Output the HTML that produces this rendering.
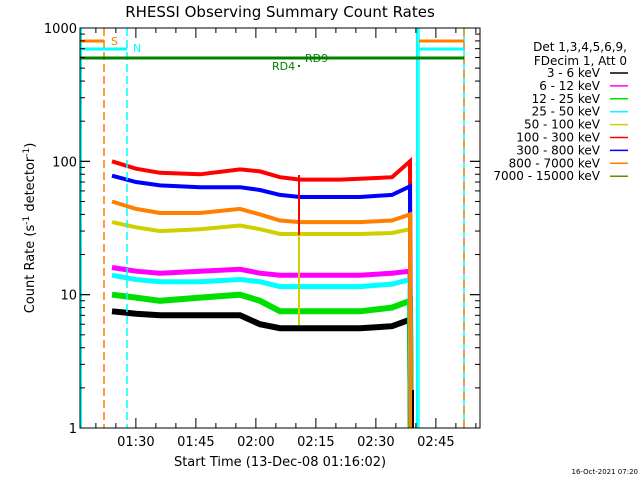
<!DOCTYPE html>
<html><head><meta charset="utf-8"><style>
html,body{margin:0;padding:0;background:#fff;}
svg{display:block;font-family:"DejaVu Sans","Liberation Sans",sans-serif;}
</style></head><body>
<svg id="chart" width="640" height="480" viewBox="0 0 640 480">
<rect width="640" height="480" fill="#fff"/>
<text x="280" y="17" font-size="15" text-anchor="middle">RHESSI Observing Summary Count Rates</text>
<g id="marks"></g>
<g id="axes"></g>
<g font-size="12" text-anchor="end">
<text x="627" y="51">Det 1,3,4,5,6,9,</text>
<text x="627" y="65">FDecim 1, Att 0</text>
</g>
<g id="legendrows" font-size="12"></g>
<text x="638" y="474" font-size="7" text-anchor="end">16-Oct-2021 07:20</text>
</svg>
<script>
// minutes since 01:16:02
const times = [8, 14, 20, 30, 40, 45, 50, 55, 60, 65, 70, 78, 82.5];
const names = ["3 - 6 keV","6 - 12 keV","12 - 25 keV","25 - 50 keV","50 - 100 keV","100 - 300 keV","300 - 800 keV","800 - 7000 keV","7000 - 15000 keV"];
const colors = ["#000000","#ff00ff","#00e000","#00ffff","#d0d000","#ff0000","#0000ff","#ff8000","#808000"];
const s36 = [7.5, 7.2, 7.0, 7.0, 7.0, 6.0, 5.6, 5.6, 5.6, 5.6, 5.6, 5.8, 6.5];
const s612 = [16, 15, 14.5, 15, 15.5, 14.5, 14, 14, 14, 14, 14, 14.5, 15];
const s1225 = [10, 9.5, 9, 9.5, 10, 9, 7.5, 7.5, 7.5, 7.5, 7.5, 8, 9];
const s2550 = [14, 13, 12.5, 12.5, 13, 12.5, 11.5, 11.5, 11.5, 11.5, 11.5, 12, 13];
const s50100 = [35, 32, 30, 31, 33, 31, 28.5, 28.5, 28.5, 28.5, 28.5, 29, 31];
const s100300 = [100, 88, 82, 80, 87, 84, 76, 73, 73, 73, 74, 76, 100];
const s300800 = [78, 70, 66, 64, 64, 61, 56, 54, 54, 54, 54, 56, 65];
const s8007000 = [50, 44, 41, 41, 44, 40, 36, 35, 35, 35, 35, 36, 40];
const series = [s36, s612, s1225, s2550, s50100, s100300, s300800, s8007000];
const widths = [6, 5, 6, 5, 4, 4, 4, 4];
const xTicks = ["01:30","01:45","02:00","02:15","02:30","02:45"];
const xTickMin = [13.97, 28.97, 43.97, 58.97, 73.97, 88.97];
const yTicks = [1, 10, 100, 1000];

const X0=80, X1=480, Y0=28, Y1=428;
const xs = m => X0 + m*4.0;
const ys = v => Y1 - (Y1-Y0)*Math.log10(v)/3;
const NS="http://www.w3.org/2000/svg";
function mk(tag, attrs, parent){const e=document.createElementNS(NS,tag);for(const k in attrs)e.setAttribute(k,attrs[k]);parent.appendChild(e);return e;}
const marks=document.getElementById('marks'), axes=document.getElementById('axes');

series.forEach((s,i)=>{
  let d = s.map((v,j)=>(j?'L':'M')+xs(times[j]).toFixed(1)+','+ys(v).toFixed(1)).join(' ');
  d += ' L'+xs(times[times.length-1]+0.2).toFixed(1)+','+Y1;
  const p=mk('path',{d:d,fill:'none',stroke:colors[i],'stroke-width':widths[i]},marks);
  
  
});
mk('line',{x1:299,y1:175,x2:299,y2:235,stroke:'#ff0000','stroke-width':2},marks);
mk('line',{x1:299,y1:235,x2:299,y2:325,stroke:'#d0d000','stroke-width':2},marks);
mk('line',{x1:413,y1:390,x2:413,y2:428,stroke:'#000','stroke-width':2},marks);

mk('line',{x1:104,y1:28,x2:104,y2:428,stroke:'#ff8000','stroke-width':1.5,'stroke-dasharray':'8,4'},marks);
mk('line',{x1:127,y1:28,x2:127,y2:428,stroke:'#00ffff','stroke-width':1.5,'stroke-dasharray':'8,4'},marks);
mk('line',{x1:464,y1:28,x2:464,y2:428,stroke:'#00ffff','stroke-width':1.5},marks);
mk('line',{x1:464,y1:28,x2:464,y2:428,stroke:'#ff8000','stroke-width':1.5,'stroke-dasharray':'8,6'},marks);
mk('line',{x1:81,y1:28,x2:81,y2:428,stroke:'#00ffff','stroke-width':2},marks);
mk('line',{x1:417,y1:28,x2:417,y2:428,stroke:'#00ffff','stroke-width':2},marks);
mk('line',{x1:419,y1:28,x2:419,y2:428,stroke:'#00ffff','stroke-width':1.5},marks);
mk('line',{x1:80,y1:41,x2:104,y2:41,stroke:'#ff8000','stroke-width':3},marks);
mk('line',{x1:419,y1:41,x2:464,y2:41,stroke:'#ff8000','stroke-width':3},marks);
mk('line',{x1:80,y1:49,x2:127,y2:49,stroke:'#00ffff','stroke-width':3},marks);
mk('line',{x1:419,y1:49,x2:464,y2:49,stroke:'#00ffff','stroke-width':3},marks);
mk('line',{x1:80,y1:58,x2:464,y2:58,stroke:'#008000','stroke-width':3},marks);
mk('rect',{x:298,y:65,width:2,height:2,fill:'#008000'},marks);
const tS=mk('text',{x:111,y:45,fill:'#ff8000','font-size':11},marks);tS.textContent='S';
const tN=mk('text',{x:133,y:52,fill:'#00ffff','font-size':11},marks);tN.textContent='N';
const t9=mk('text',{x:305,y:62,fill:'#008000','font-size':11},marks);t9.textContent='RD9';
const t4=mk('text',{x:272,y:70,fill:'#008000','font-size':11},marks);t4.textContent='RD4';

mk('rect',{x:X0,y:Y0,width:X1-X0,height:Y1-Y0,fill:'none',stroke:'#000','stroke-width':1},axes);
for(let m=3.97;m<100;m+=5){const x=xs(m);const major=Math.abs(((m-13.97)%15+15)%15)<0.01;const L=major?10:5;
  mk('line',{x1:x,y1:Y1,x2:x,y2:Y1-L,stroke:'#000'},axes);mk('line',{x1:x,y1:Y0,x2:x,y2:Y0+L,stroke:'#000'},axes);}
xTicks.forEach((t,i)=>{const e=mk('text',{x:xs(xTickMin[i]),y:446,'font-size':13,'text-anchor':'middle'},axes);e.textContent=t;
  });
const xt=mk('text',{x:280,y:466,'font-size':13,'text-anchor':'middle'},axes);xt.textContent='Start Time (13-Dec-08 01:16:02)';

for(let d=0;d<3;d++)for(let k=1;k<=10;k++){const v=k*Math.pow(10,d);const y=ys(v);const L=(k===1||k===10)?10:5;
  mk('line',{x1:X0,y1:y,x2:X0+L,y2:y,stroke:'#000'},axes);mk('line',{x1:X1,y1:y,x2:X1-L,y2:y,stroke:'#000'},axes);}
yTicks.forEach(v=>{const e=mk('text',{x:77,y:ys(v)+5,'font-size':13,'text-anchor':'end'},axes);e.textContent=String(v);
  });
const yt=mk('text',{x:0,y:0,'font-size':13,'text-anchor':'middle',transform:'translate(34,228) rotate(-90)'},axes);
yt.innerHTML='Count Rate (s<tspan dy="-5" font-size="9">-1</tspan><tspan dy="5"> detector</tspan><tspan dy="-5" font-size="9">-1</tspan><tspan dy="5">)</tspan>';


const lg=document.getElementById('legendrows');
names.forEach((n,i)=>{const y=77+i*12.9;
  const t=mk('text',{x:600,y:y,'text-anchor':'end'},lg);t.textContent=n;
  
  mk('line',{x1:610,y1:y-4,x2:628,y2:y-4,stroke:colors[i],'stroke-width':1.5},lg);
});
</script>
</body></html>
